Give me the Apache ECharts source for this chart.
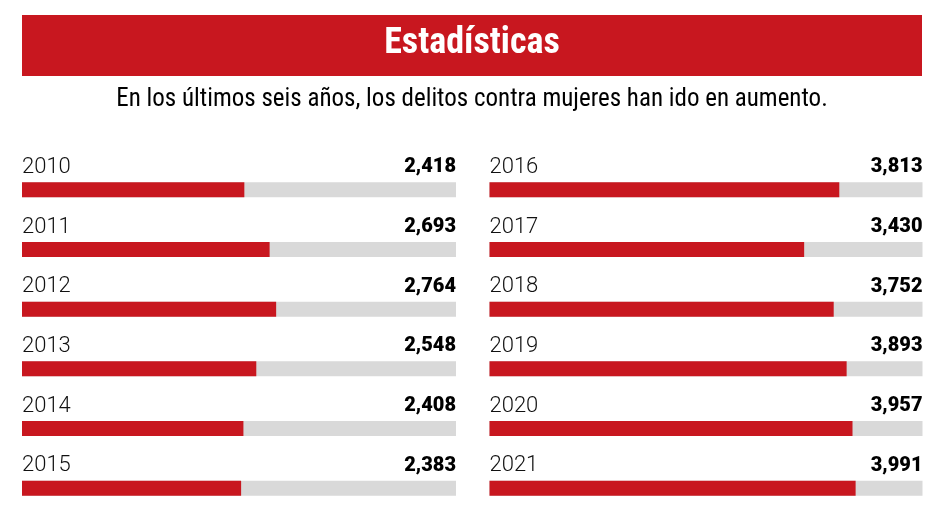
<!DOCTYPE html>
<html><head><meta charset="utf-8">
<script src="https://cdn.jsdelivr.net/npm/echarts@6/dist/echarts.min.js"></script>
<style>html,body{margin:0;padding:0;background:#fff}#c{width:945px;height:518px}</style>
</head><body><div id="c"></div>
<script>
const titleText = 'Estadísticas';
const subtitleText = 'En los últimos seis años, los delitos contra mujeres han ido en aumento.';
const yearsLeft = ['2010','2011','2012','2013','2014','2015'];
const valuesLeft = [2418, 2693, 2764, 2548, 2408, 2383];
const yearsRight = ['2016','2017','2018','2019','2020','2021'];
const valuesRight = [3813, 3430, 3752, 3893, 3957, 3991];
const scaleMax = 4720;

const RED = '#c8171f', GRAY = '#d9d9d9';
const COND = '"Roboto Condensed", "Liberation Sans Narrow", Roboto, sans-serif';
const REG = 'Roboto, "Noto Sans", sans-serif';

function fmt(v){ return v.toLocaleString('en-US'); }

function build(idx, years, values){
  return [
    {
      type: 'bar', xAxisIndex: idx, yAxisIndex: idx, barWidth: 15, barGap: '-100%',
      data: years.map(() => scaleMax), itemStyle: {color: GRAY}, silent: true,
      label: {show: true, position: ['100%', -5], align: 'right', verticalAlign: 'bottom',
        fontFamily: REG, fontWeight: 900, fontSize: 20, color: '#000',
        formatter: p => fmt(values[p.dataIndex])}
    },
    {
      type: 'bar', xAxisIndex: idx, yAxisIndex: idx, barWidth: 15, barGap: '-100%',
      data: values, itemStyle: {color: RED}, silent: true,
      label: {show: true, position: [0, -4], align: 'left', verticalAlign: 'bottom',
        fontFamily: REG, fontWeight: 300, fontSize: 22, color: '#111',
        formatter: p => years[p.dataIndex]}
    }
  ];
}

const chart = echarts.init(document.getElementById('c'), null, {renderer: 'canvas'});
chart.setOption({
  animation: false,
  graphic: [
    {type: 'rect', shape: {x: 22, y: 15, width: 900, height: 61}, style: {fill: RED}, z: 0}
  ],
  title: [
    {text: titleText, left: 472, top: 44, textAlign: 'center', textVerticalAlign: 'middle',
     textStyle: {color: '#fff', fontFamily: COND, fontWeight: 'bold', fontSize: 36}, padding: 0},
    {text: subtitleText, left: 472, top: 100, textAlign: 'center', textVerticalAlign: 'middle',
     textStyle: {color: '#000', fontFamily: COND, fontWeight: 'normal', fontSize: 25}, padding: 0}
  ],
  grid: [
    {left: 22, width: 434, top: 160, height: 360},
    {left: 489.5, width: 433, top: 160, height: 360}
  ],
  xAxis: [0,1].map(i => ({type: 'value', gridIndex: i, min: 0, max: scaleMax, show: false})),
  yAxis: [
    {type: 'category', gridIndex: 0, data: yearsLeft, inverse: true, show: false},
    {type: 'category', gridIndex: 1, data: yearsRight, inverse: true, show: false}
  ],
  series: [...build(0, yearsLeft, valuesLeft), ...build(1, yearsRight, valuesRight)]
});
</script></body></html>
